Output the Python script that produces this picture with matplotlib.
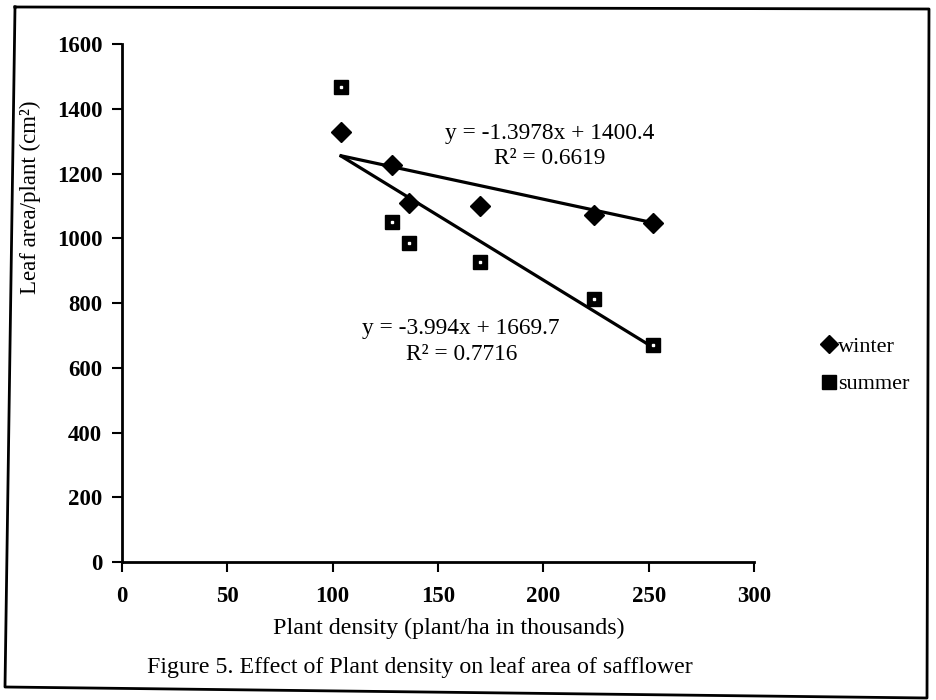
import numpy as np
import matplotlib.pyplot as plt
from matplotlib.lines import Line2D

plt.rcParams['font.family'] = ['Liberation Serif', 'DejaVu Serif']

# plant density (thousand plants/ha) and leaf area per plant (cm2)
density = [104, 128, 136, 170, 224, 252]
winter = [1328, 1226, 1109, 1100, 1072, 1047]
summer = [1467, 1050, 985, 927, 812, 670]

# fitted trend lines as printed on the chart
winter_fit = (-1.3978, 1400.4, 0.6619)
summer_fit = (-3.994, 1669.7, 0.7716)

x_ticks = [0, 50, 100, 150, 200, 250, 300]
y_ticks = [0, 200, 400, 600, 800, 1000, 1200, 1400, 1600]

W, H = 937, 700
fig = plt.figure(figsize=(W / 100, H / 100), dpi=100)
ax = fig.add_axes([0.130, 0.197, 0.675, 0.740])

x = np.array(density)
xs = np.array([x.min(), x.max()])
for slope, icpt, _ in (winter_fit, summer_fit):
    ax.plot(xs, slope * xs + icpt, color='black', linewidth=2.3, zorder=2)

ax.plot(density, winter, linestyle='none', marker='D', markersize=10,
        color='black', zorder=3)
ax.plot(density, summer, linestyle='none', marker='s', markersize=10.5,
        color='black', zorder=3)
ax.plot(density, summer, linestyle='none', marker='s', markersize=2,
        color='white', zorder=4)

for (slope, icpt, r2), pos in ((winter_fit, (203, 1285)), (summer_fit, (161, 682))):
    ax.text(pos[0], pos[1],
            f'y = {slope}x + {icpt}\nR\u00b2 = {r2}',
            ha='center', va='center', fontsize=16.8, linespacing=1.3,
            multialignment='center')

ax.set_xlim(0, 300)
ax.set_ylim(0, 1600)
ax.set_xticks(x_ticks)
ax.set_yticks(y_ticks)
ax.tick_params(direction='out', length=7, width=1.5, labelsize=16.5)
ax.tick_params(axis='x', pad=10)
ax.tick_params(axis='y', pad=7)
for lbl in ax.get_xticklabels() + ax.get_yticklabels():
    lbl.set_fontweight('bold')
for side in ('top', 'right'):
    ax.spines[side].set_visible(False)
for side in ('left', 'bottom'):
    ax.spines[side].set_linewidth(2)

ax.set_xlabel('Plant density (plant/ha in thousands)', fontsize=17.3)
ax.xaxis.set_label_coords((449 - 122) / 632, -(628 - 562) / 518)
ax.xaxis.label.set_va('center')
ax.set_ylabel('Leaf area/plant (cm\u00b2)', fontsize=16.5)
ax.yaxis.set_label_coords(-0.128, 0.705)

handles = [
    Line2D([], [], linestyle='none', marker='D', markersize=9, color='black'),
    Line2D([], [], linestyle='none', marker='s', markersize=10, color='black'),
]
fig.legend(handles, ['winter', 'summer'], loc='center left',
           bbox_to_anchor=(0.856, 0.478), frameon=False, fontsize=16,
           handlelength=0.6, handletextpad=0.1, labelspacing=0.75)

fig.text(420 / W, 1 - 667 / H,
         'Figure 5. Effect of Plant density on leaf area of safflower',
         ha='center', va='center', fontsize=17.2)

# page frame around the figure (pixel corners)
corners = [(15, 7), (5, 687), (927, 698), (929, 9), (15, 7)]
fx = [c[0] / W for c in corners]
fy = [1 - c[1] / H for c in corners]
fig.add_artist(Line2D(fx, fy, color='black', linewidth=2))

fig.savefig('out.png', dpi=100)
